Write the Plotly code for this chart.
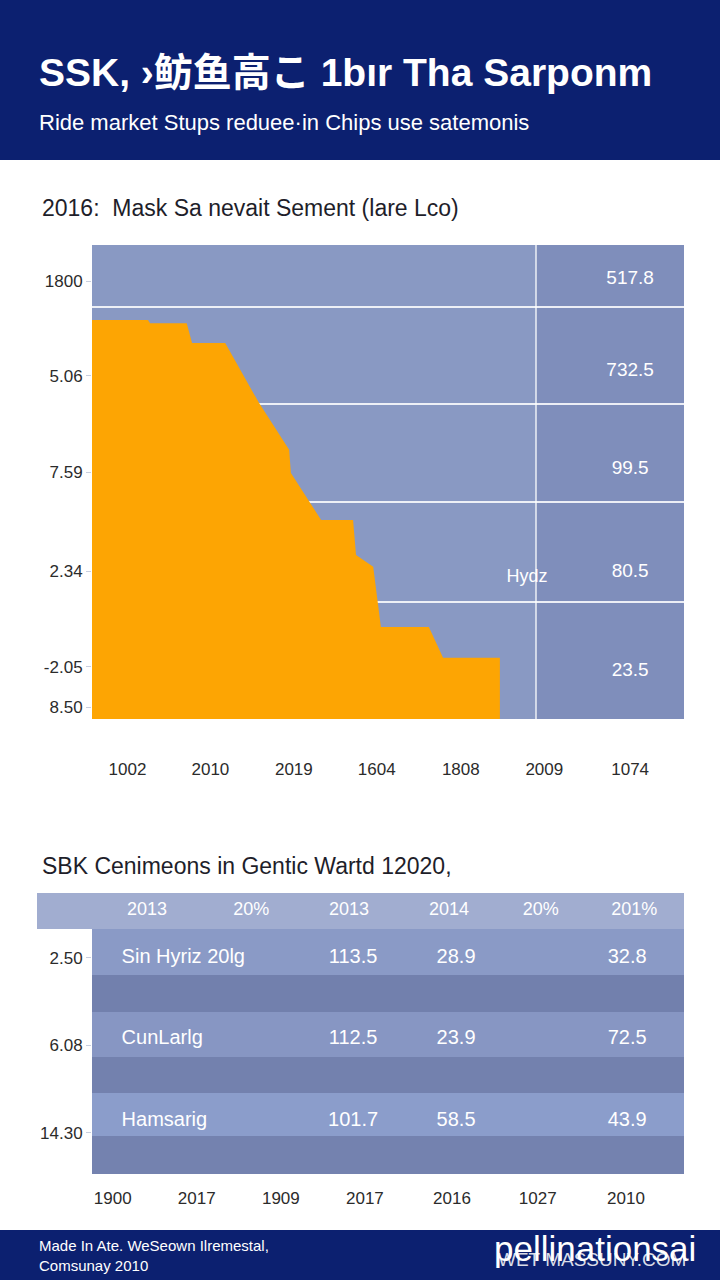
import plotly.graph_objects as go

# ---- data ----
area_x = [0, 9.46, 9.8, 16.0, 16.9, 22.5, 28.2, 33.3, 33.6, 38.7, 44.1, 44.6,
          47.5, 48.8, 56.9, 59.3, 68.9, 68.9]
area_y = [84.2, 84.2, 83.5, 83.5, 79.3, 79.3, 66.7, 56.8, 51.9, 42.0, 42.0, 34.6,
          32.1, 19.4, 19.4, 12.9, 12.9, 0]

top_xlabels = ["1002", "2010", "2019", "1604", "1808", "2009", "1074"]
top_ylabels = ["1800", "5.06", "7.59", "2.34", "-2.05", "8.50"]
side_values = ["517.8", "732.5", "99.5", "80.5", "23.5"]

table_header = ["2013", "20%", "2013", "2014", "20%", "201%"]
row_names = ["Sin Hyriz 20lg", "CunLarlg", "Hamsarig"]
row_col1 = ["113.5", "112.5", "101.7"]
row_col2 = ["28.9", "23.9", "58.5"]
row_col3 = ["32.8", "72.5", "43.9"]
table_ylabels = ["2.50", "6.08", "14.30"]
table_xlabels = ["1900", "2017", "1909", "2017", "2016", "1027", "2010"]

# ---- positions / styling ----
W, H = 720, 1280
NAVY = "#0c2070"
ORANGE = "#fda503"
BG_L = "#8999c3"
BG_R = "#7f8ebb"
FONT = "Liberation Sans, Arial, sans-serif"


def px(x):
    return x / W


def py(y):
    return 1 - y / H


top_xpos = [6.0, 20.0, 34.1, 48.1, 62.3, 76.4, 90.9]
top_ypos = [92.4, 72.4, 52.1, 31.2, 11.0, 2.5]
grid_ypos = [86.9, 66.5, 45.8, 24.7]
side_ypos = [92.8, 73.4, 52.7, 31.0, 10.1]

band_centers = [93.6, 79.0, 64.2, 49.6, 35.2, 21.2, 6.8]
band_widths = [12.8, 16.4, 13.2, 16.0, 12.8, 15.3, 13.5]
band_colors = ["#a1add0", "#8a9ac6", "#7280ad", "#8796c3", "#7381ae", "#8b9dcb", "#7482af"]
head_x = [9.3, 26.9, 43.4, 60.3, 75.8, 91.6]
row_y = [76.9, 48.0, 18.9]
tab_ypos = [76.9, 45.9, 14.6]
tab_xpos = [3.5, 17.7, 31.9, 46.1, 60.8, 75.3, 90.2]

fig = go.Figure()

# top chart: orange stepped area
fig.add_trace(go.Scatter(
    x=area_x, y=area_y, mode="lines", fill="tozeroy",
    line=dict(color=ORANGE, width=0), fillcolor=ORANGE,
    xaxis="x", yaxis="y", hoverinfo="skip",
))
# invisible trace to activate the grid axis
fig.add_trace(go.Scatter(x=[0], y=[0], mode="markers", opacity=0,
                         xaxis="x", yaxis="y2", hoverinfo="skip"))
# right-column values
fig.add_trace(go.Scatter(
    x=[90.9] * len(side_values), y=side_ypos, mode="text", text=side_values,
    textfont=dict(color="white", size=19, family=FONT),
    xaxis="x", yaxis="y", hoverinfo="skip",
))
fig.add_trace(go.Scatter(
    x=[73.5], y=[29.8], mode="text", text=["Hydz"],
    textfont=dict(color="white", size=18, family=FONT),
    xaxis="x", yaxis="y", hoverinfo="skip",
))

# table: horizontal bands
fig.add_trace(go.Bar(
    y=band_centers, x=[100] * len(band_centers), width=band_widths,
    orientation="h", marker=dict(color=band_colors, line=dict(width=0)),
    xaxis="x3", yaxis="y3", hoverinfo="skip",
))
fig.add_trace(go.Scatter(
    x=head_x, y=[93.6] * len(head_x), mode="text", text=table_header,
    textfont=dict(color="white", size=18, family=FONT),
    xaxis="x3", yaxis="y3", hoverinfo="skip",
))
fig.add_trace(go.Scatter(
    x=[5.0] * 3, y=row_y, mode="text", text=row_names, textposition="middle right",
    textfont=dict(color="white", size=20, family=FONT),
    xaxis="x3", yaxis="y3", hoverinfo="skip",
))
for xc, col in zip([44.1, 61.5, 90.4], [row_col1, row_col2, row_col3]):
    fig.add_trace(go.Scatter(
        x=[xc] * 3, y=row_y, mode="text", text=col,
        textfont=dict(color="white", size=20, family=FONT),
        xaxis="x3", yaxis="y3", hoverinfo="skip",
    ))

dom_x = [px(92), px(684)]
tick_font = dict(size=17, color="#2b2b2b", family=FONT)

fig.update_layout(
    width=W, height=H, margin=dict(l=0, r=0, t=0, b=0),
    paper_bgcolor="white", plot_bgcolor=BG_L, showlegend=False,
    font=dict(family=FONT),
    xaxis=dict(domain=dom_x, anchor="y", range=[0, 100], tickvals=top_xpos,
               ticktext=top_xlabels, showgrid=False, zeroline=False, ticks="",
               ticklabelstandoff=38, tickfont=tick_font, fixedrange=True),
    yaxis=dict(domain=[py(719), py(245)], anchor="x", range=[0, 100],
               tickvals=top_ypos, ticktext=top_ylabels, showgrid=False,
               zeroline=False, ticks="outside", ticklen=5, tickcolor="#c9cfdf",
               tickfont=tick_font, fixedrange=True),
    yaxis2=dict(domain=[py(719), py(245)], anchor="x", overlaying="y",
                range=[0, 100], tickvals=grid_ypos, showticklabels=False,
                showgrid=True, gridcolor="rgba(255,255,255,0.85)", gridwidth=1.5,
                zeroline=False, fixedrange=True),
    xaxis3=dict(domain=dom_x, anchor="y3", range=[0, 100], tickvals=tab_xpos,
                ticktext=table_xlabels, showgrid=False, zeroline=False, ticks="",
                ticklabelstandoff=12, tickfont=tick_font, fixedrange=True),
    yaxis3=dict(domain=[py(1174), py(893)], anchor="x3", range=[0, 100],
                tickvals=tab_ypos, ticktext=table_ylabels, showgrid=False,
                zeroline=False, ticks="outside", ticklen=5, tickcolor="#c9cfdf",
                tickfont=tick_font, fixedrange=True),
    bargap=0,
)

shapes = [
    # header / footer bands
    dict(type="rect", xref="paper", yref="paper", x0=0, x1=1, y0=py(160), y1=1,
         fillcolor=NAVY, line=dict(width=0), layer="below"),
    dict(type="rect", xref="paper", yref="paper", x0=0, x1=1, y0=0, y1=py(1230),
         fillcolor=NAVY, line=dict(width=0), layer="below"),
    # darker right column of top chart
    dict(type="rect", xref="x", yref="y", x0=75, x1=100, y0=0, y1=100,
         fillcolor=BG_R, line=dict(width=0), layer="below"),
    dict(type="line", xref="x", yref="y", x0=75, x1=75, y0=0, y1=100,
         line=dict(color="rgba(255,255,255,0.85)", width=1.5), layer="above"),
    # header cell left of the table
    dict(type="rect", xref="paper", yref="paper", x0=px(37), x1=px(92),
         y0=py(929), y1=py(893), fillcolor="#a1add0", line=dict(width=0)),
]
fig.update_layout(shapes=shapes)

annots = [
    dict(text="<b>SSK, ›鲂鱼高こ 1bır Tha Sarponm</b>", x=px(37), y=py(72),
         font=dict(size=39, color="white", family="Liberation Sans, Noto Sans CJK JP")),
    dict(text="Ride market Stups reduee·in Chips use satemonis", x=px(37), y=py(123),
         font=dict(size=22, color="white", family=FONT)),
    dict(text="2016:  Mask Sa nevait Sement (lare Lco)", x=px(40), y=py(208),
         font=dict(size=23, color="#1e1e2a", family=FONT)),
    dict(text="SBK Cenimeons in Gentic Wartd 12020,", x=px(40), y=py(866),
         font=dict(size=23, color="#1e1e2a", family=FONT)),
    dict(text="Made In Ate. WeSeown Ilremestal,<br>Comsunay 2010", x=px(37), y=py(1255),
         align="left", font=dict(size=15, color="white", family=FONT)),
    dict(text="pellinationsai", x=px(492), y=py(1248),
         font=dict(size=35, color="white", family=FONT)),
    dict(text="WET MASSUNY.COM", x=px(496), y=py(1259),
         font=dict(size=19, color="rgba(255,255,255,0.85)", family=FONT)),
]
for a in annots:
    fig.add_annotation(xref="paper", yref="paper", xanchor="left", yanchor="middle",
                       showarrow=False, **a)

fig.write_html("out.html", config={"displayModeBar": False},
               post_script="document.body.style.margin='0';"
                           "document.body.style.overflow='hidden';")
